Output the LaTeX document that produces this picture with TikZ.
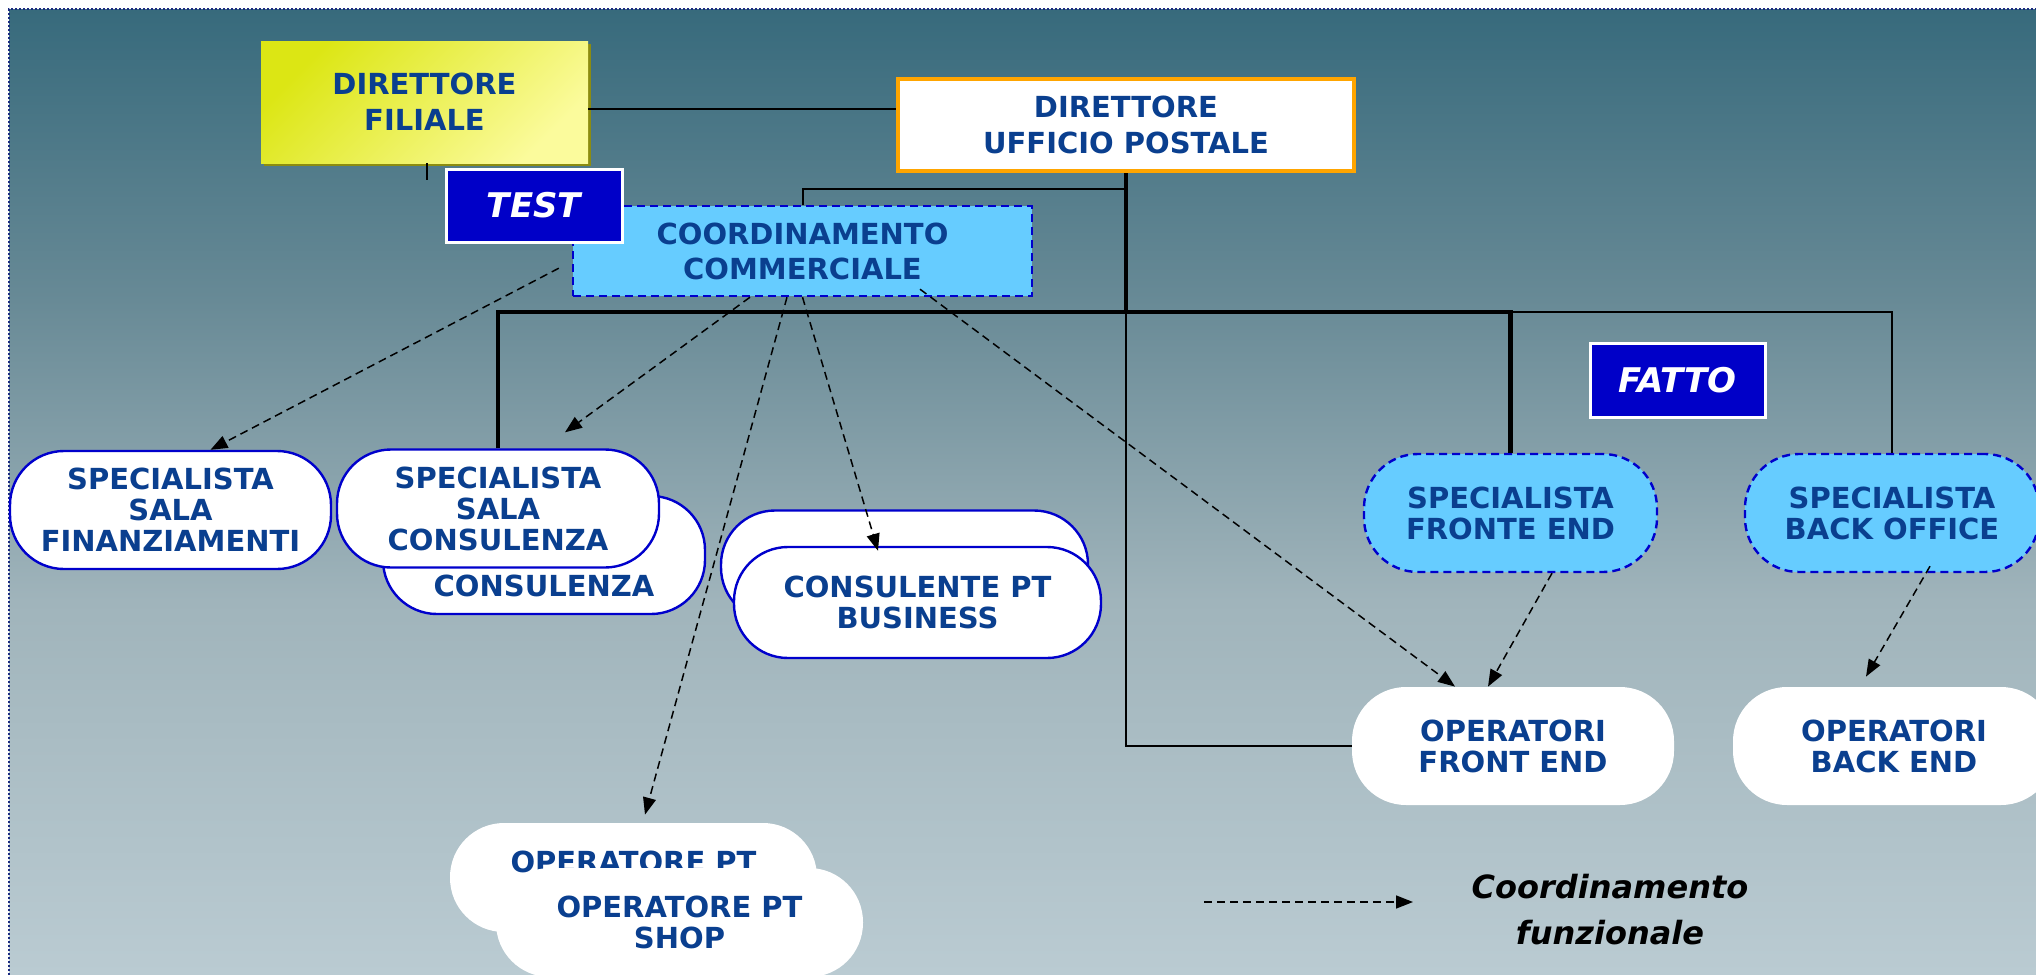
\documentclass[tikz,border=0pt]{standalone}
\usepackage{fontspec}
\setmainfont{DejaVu Sans}
\usetikzlibrary{arrows.meta,calc,shadows}
\definecolor{txtblue}{HTML}{0A3F8F}
\definecolor{bordblue}{HTML}{0000CC}
\definecolor{lightblue}{HTML}{66CCFF}
\definecolor{tagblue}{HTML}{0000C8}
\definecolor{orangeb}{HTML}{FFA500}
\definecolor{bgA}{HTML}{376A7C}
\definecolor{bgB}{HTML}{688A96}
\definecolor{bgC}{HTML}{A0B4BB}
\definecolor{bgD}{HTML}{BACBD2}
\definecolor{yelA}{HTML}{DCE614}
\definecolor{yelB}{HTML}{FBFB9C}
\definecolor{yelshadow}{HTML}{8C8C10}
\definecolor{navyb}{HTML}{1A2A80}
\begin{document}
\begin{tikzpicture}[x=0.5pt,y=-0.5pt,
  lbl/.style={font=\fontsize{14.5}{15.5}\selectfont\bfseries, text=txtblue, align=center, inner sep=0pt},
  boxlbl/.style={lbl, font=\fontsize{14.5}{18}\selectfont\bfseries},
  pill/.style={lbl, rounded corners=27pt, minimum height=59pt},
  pillblue/.style={pill, draw=bordblue, line width=1.2pt, fill=white},
  pillwhite/.style={pill, fill=white},
  pilldash/.style={pill, draw=bordblue, line width=1.2pt, fill=lightblue, dash pattern=on 4pt off 2.5pt},
  tag/.style={font=\fontsize{17}{20}\selectfont\bfseries\itshape, text=white, fill=tagblue, draw=white, line width=1.5pt, inner sep=0pt},
  link/.style={line width=1pt, black},
  trunk/.style={line width=2.2pt, black},
  coord/.style={line width=0.75pt, black, dash pattern=on 4pt off 2.5pt, -{Triangle[length=8.5pt,width=6.5pt]}},
]
\useasboundingbox (0,0) rectangle (2036,975);
\clip (0,0) rectangle (2036,975);
% background
\fill[white] (0,0) rectangle (2036,975);
\shade[top color=bgA,bottom color=bgB] (9,9) rectangle (2036,301);
\shade[top color=bgB,bottom color=bgC] (9,300) rectangle (2036,601);
\shade[top color=bgC,bottom color=bgD] (9,600) rectangle (2036,975);
\draw[navyb, line width=1pt, dash pattern=on 1pt off 1pt] (9,975) -- (9,9) -- (2036,9);

% top boxes
\node[boxlbl, minimum width=163.5pt, minimum height=61pt, top color=yelA, bottom color=yelB, shading angle=45,
      drop shadow={shadow xshift=1.5pt, shadow yshift=-1.5pt, fill=yelshadow, opacity=1}] (df) at (424.5,102) {DIRETTORE\\FILIALE};
\node[boxlbl, fill=white, draw=orangeb, line width=2pt, minimum width=228pt, minimum height=46pt] (dup) at (1126,125) {DIRETTORE\\UFFICIO POSTALE};
\node[boxlbl, font=\fontsize{14.5}{17.5}\selectfont\bfseries, fill=lightblue, draw=bordblue, line width=1.2pt, dash pattern=on 4pt off 2.5pt,
      minimum width=229.5pt, minimum height=45pt] (cc) at (802.5,251) {COORDINAMENTO\\COMMERCIALE};
\node[tag, minimum width=88pt, minimum height=36.5pt] (test) at (534,205.5) {TEST};
\node[tag, minimum width=87.5pt, minimum height=37pt] (fatto) at (1677.5,380) {FATTO};

% role nodes
\node[pillblue, minimum width=160.5pt] (ssf) at (170.5,510) {SPECIALISTA\\SALA\\FINANZIAMENTI};
\node[pillblue, minimum width=161pt] (sscb) at (544,555) {\vphantom{SPECIALISTA}\\\vphantom{SALA}\\CONSULENZA};
\node[pillblue, minimum width=161pt] (sscf) at (498,508.5) {SPECIALISTA\\SALA\\CONSULENZA};
\node[pillblue, minimum width=183.5pt, minimum height=55.5pt] (cpbb) at (904.5,566) {};
\node[pillblue, minimum width=183.5pt, minimum height=55.5pt] (cpbf) at (917.5,602.5) {CONSULENTE PT\\BUSINESS};
\node[pillwhite, minimum width=183.5pt, minimum height=54.5pt] (opsb) at (633.5,877.5) {OPERATORE PT\\\vphantom{SHOP}};
\node[pillwhite, minimum width=183.5pt, minimum height=54.5pt] (opsf) at (679.5,922.5) {OPERATORE PT\\SHOP};
\node[pilldash, minimum width=146.5pt] (sfe) at (1510.5,513) {SPECIALISTA\\FRONTE END};
\node[pilldash, minimum width=147pt] (sbo) at (1892,513) {SPECIALISTA\\BACK OFFICE};
\node[pillwhite, minimum width=161pt] (ofe) at (1513,746) {OPERATORI\\FRONT END};
\node[pillwhite, minimum width=161pt] (obe) at (1894,746) {OPERATORI\\BACK END};

% hierarchy lines
\coordinate (hub) at ($(dup.south)+(0,139)$);
\coordinate (dfl) at ($(df.east)+(0,7)$);
\draw[link] (dfl) -- (dfl -| dup.west);
\draw[link] ($(df.south)+(2.5,0)$) -- ++(0,17);
\draw[link] (cc.north) |- ($(dup.south)+(0,16)$);
\draw[trunk] (dup.south) -- (hub);
\draw[trunk] (sscf.north) |- (hub) -| (sfe.north);
\draw[link] (hub) -| (sbo.north);
\draw[link] (hub) |- (ofe.west);

% functional coordination
\draw[coord] ($(cc.south west)+(-13,-29)$) -- ($(ssf.north)+(40,0)$);
\draw[coord] ($(cc.south)+(-52.5,0)$) -- ($(sscf.north)+(67,-16)$);
\draw[coord] ($(cc.south)+(-15.5,0)$) -- ($(opsb.north)+(11.5,-8)$);
\draw[coord] (cc.south) -- ($(cpbf.north)+(-39.5,5)$);
\draw[coord] ($(cc.south)+(117.5,-8)$) -- ($(ofe.north)+(-58,0)$);
\draw[coord] ($(sfe.south)+(41.5,0)$) -- ($(ofe.north)+(-25,0)$);
\draw[coord] ($(sbo.south)+(38,-7)$) -- ($(obe.north)+(-28,-10)$);

% legend
\coordinate (lgA) at (1204,902);
\coordinate (lgB) at (1413,902);
\draw[coord] (lgA) -- (lgB);
\node[font=\fontsize{16}{23}\selectfont\bfseries\itshape, align=center, inner sep=0pt] (legend) at (1610,910) {Coordinamento\\funzionale};
\end{tikzpicture}
\end{document}
